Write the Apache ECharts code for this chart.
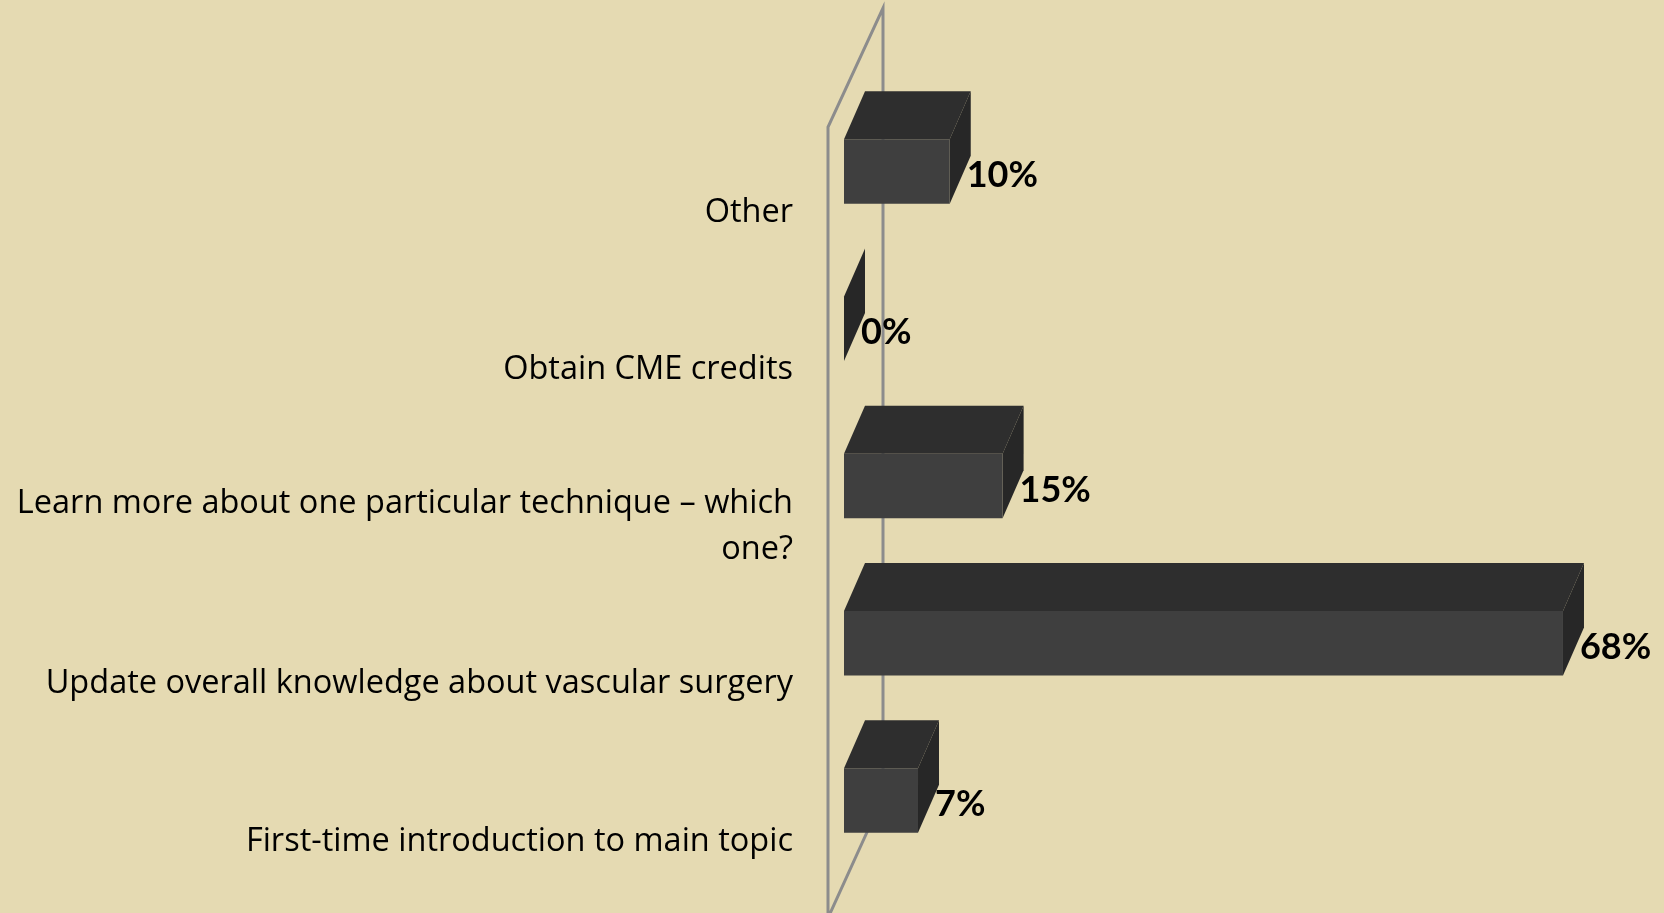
<!DOCTYPE html>
<html>
<head>
<meta charset="utf-8">
<title>chart</title>
<script src="https://cdn.jsdelivr.net/npm/echarts@6/dist/echarts.min.js"></script>
<style>
	html, body { margin: 0; padding: 0; background: #e5dab2; }
	#main { width: 1664px; height: 913px; }
</style>
</head>
<body>
<div id="main"></div>
<script>
// categories from bottom to top
const categories = [
	'First-time introduction to main topic',
	'Update overall knowledge about vascular surgery',
	'Learn more about one particular technique – which\none?',
	'Obtain CME credits',
	'Other',
];
const percents = [7, 68, 15, 0, 10];

const chart = echarts.init(document.getElementById('main'));

// 3d offset of the bars (back face vs front face)
const depthX = 21;
const depthY = -48;
// bars sit above the category tick (perspective)
const liftY = -41;

// box with front, top and right side
const renderBar = (params, api) => {
	const val = api.value(0);
	const start = api.coord([0, api.value(1)]);
	const end = api.coord([val, api.value(1)]);
	const h = api.size([0, 1])[1] * 0.41;
	const cy = start[1] + liftY;
	const x0 = start[0];
	const x1 = end[0];
	const y0 = cy - h / 2;
	const y1 = cy + h / 2;
	return {
		type: 'group',
		children: [
			{
				type: 'polygon',
				shape: { points: [[x0, y0], [x1, y0], [x1 + depthX, y0 + depthY], [x0 + depthX, y0 + depthY]] },
				style: { fill: '#2e2e2e' },
			},
			{
				type: 'polygon',
				shape: { points: [[x1, y0], [x1 + depthX, y0 + depthY], [x1 + depthX, y1 + depthY], [x1, y1]] },
				style: { fill: '#272727' },
			},
			{
				type: 'rect',
				shape: { x: x0, y: y0, width: x1 - x0, height: h },
				style: { fill: '#3f3f3f' },
			},
			{
				type: 'text',
				x: x1 + depthX - 4,
				y: cy + 4,
				style: {
					text: val + '%',
					fill: '#000',
					font: 'bold 36px Lato',
					align: 'left',
					verticalAlign: 'middle',
				},
			},
		],
	};
};

// the grey wall behind the bars (axis line in 3d)
const renderWall = (params, api) => {
	const top = api.coord([0, categories.length - 1]);
	const bottom = api.coord([0, 0]);
	const band = api.size([0, 1])[1];
	const fx = top[0] - 16;
	const fy0 = top[1] - band / 2 - 7;
	const fy1 = bottom[1] + band / 2 - 4;
	const bx = fx + 55;
	return {
		type: 'polyline',
		shape: { points: [[fx, fy1], [fx, fy0], [bx, fy0 - 119], [bx, fy1 - 119], [fx, fy1 + 2]] },
		style: { stroke: '#8c8c8c', lineWidth: 3, fill: null },
	};
};

const option = {
	backgroundColor: '#e5dab2',
	grid: {
		left: 844,
		right: 27,
		top: 134,
		height: 786,
		outerBoundsMode: 'none',
	},
	xAxis: {
		type: 'value',
		min: 0,
		max: 75,
		show: false,
	},
	yAxis: {
		type: 'category',
		data: categories,
		axisLine: { show: false },
		axisTick: { show: false },
		axisLabel: {
			margin: 51,
			color: '#000',
			fontFamily: 'Open Sans',
			fontSize: 32.5,
			lineHeight: 46,
			align: 'right',
		},
	},
	series: [
		{
			type: 'custom',
			renderItem: renderWall,
			data: [[0, 0]],
			silent: true,
			z: 1,
		},
		{
			type: 'custom',
			renderItem: renderBar,
			encode: { x: 0, y: 1 },
			data: percents.map((v, i) => [v, i]),
			z: 2,
		},
	],
};
chart.setOption(option);
</script>
</body>
</html>
